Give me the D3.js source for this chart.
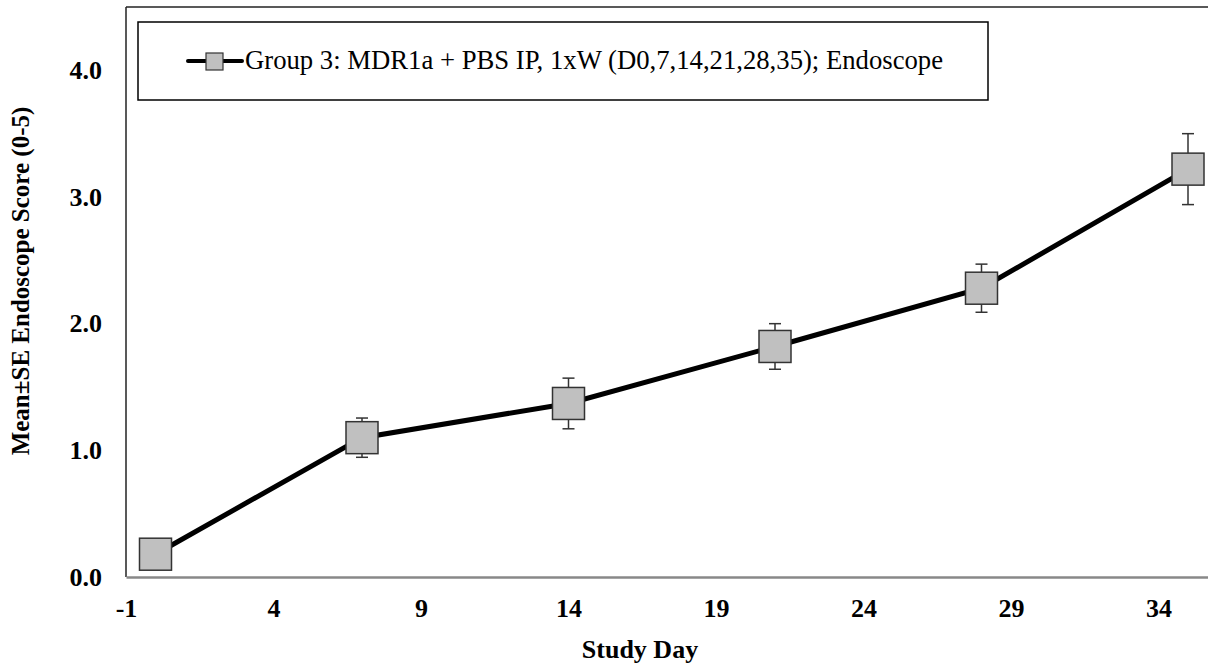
<!DOCTYPE html>
<html>
<head>
<meta charset="utf-8">
<script src="https://cdn.jsdelivr.net/npm/d3@7"></script>
<style>
  html, body { margin: 0; padding: 0; background: #fff; }
  svg { display: block; font-family: "Liberation Serif", "Times New Roman", serif; }
</style>
</head>
<body>
<svg id="chart" width="1208" height="671"></svg>
<script>
// data
const days = [0, 7, 14, 21, 28, 35];
const means = [0.18, 1.10, 1.37, 1.82, 2.28, 3.22];
const errs = [0, 0.155, 0.20, 0.18, 0.19, 0.28];
const xTicks = [-1, 4, 9, 14, 19, 24, 29, 34];
const yTicks = [0, 1, 2, 3, 4];
const seriesName = "Group 3: MDR1a + PBS IP, 1xW (D0,7,14,21,28,35); Endoscope";

const svg = d3.select("#chart");
const plotLeft = 126, plotTop = 7, plotBottom = 577;

const x = d3.scaleLinear().domain([-1, 36]).range([plotLeft, plotLeft + 37 * 29.5]);
const y = d3.scaleLinear().domain([0, 4.5]).range([plotBottom, plotTop]);

const pts = days.map((d, i) => ({ day: d, m: means[i], e: errs[i] }));

// frame: top + left in black, bottom axis grey
svg.append("line").attr("x1", plotLeft).attr("x2", 1208).attr("y1", plotTop).attr("y2", plotTop)
  .attr("stroke", "#222").attr("stroke-width", 1.5);
svg.append("line").attr("x1", plotLeft).attr("x2", plotLeft).attr("y1", plotTop).attr("y2", plotBottom)
  .attr("stroke", "#222").attr("stroke-width", 1.5);

const xAxis = d3.axisBottom(x).tickValues(xTicks).tickSize(0).tickPadding(22).tickFormat(d => String(d));
const gx = svg.append("g").attr("transform", `translate(0,${plotBottom})`).call(xAxis);
gx.select(".domain").attr("stroke", "#888").attr("stroke-width", 2.5);
gx.selectAll("text").attr("font-size", 26).attr("font-weight", "bold")
  .attr("font-family", "Liberation Serif").attr("fill", "#000");

const yAxis = d3.axisLeft(y).tickValues(yTicks).tickSize(0).tickPadding(24).tickFormat(d3.format(".1f"));
const gy = svg.append("g").attr("transform", `translate(${plotLeft},0)`).call(yAxis);
gy.select(".domain").remove();
gy.selectAll("text").attr("font-size", 26).attr("font-weight", "bold")
  .attr("font-family", "Liberation Serif").attr("fill", "#000");

// axis titles
svg.append("text").attr("x", 640).attr("y", 658).attr("text-anchor", "middle")
  .attr("font-size", 26).attr("font-weight", "bold").text("Study Day");
svg.append("text").attr("transform", "translate(29,281) rotate(-90)").attr("text-anchor", "middle")
  .attr("font-size", 25).attr("font-weight", "bold").text("Mean\u00b1SE Endoscope Score (0-5)");

// error bars
const eb = svg.append("g").attr("stroke", "#333").attr("stroke-width", 1.5);
pts.filter(p => p.e > 0).forEach(p => {
  const cx = x(p.day);
  eb.append("line").attr("x1", cx).attr("x2", cx).attr("y1", y(p.m - p.e)).attr("y2", y(p.m + p.e));
  [p.m - p.e, p.m + p.e].forEach(v => {
    eb.append("line").attr("x1", cx - 6).attr("x2", cx + 6).attr("y1", y(v)).attr("y2", y(v));
  });
});

// line
svg.append("path").datum(pts)
  .attr("d", d3.line().x(d => x(d.day)).y(d => y(d.m)))
  .attr("fill", "none").attr("stroke", "#000").attr("stroke-width", 5);

// markers
const sz = 32;
svg.selectAll("rect.mk").data(pts).enter().append("rect").attr("class", "mk")
  .attr("x", d => x(d.day) - sz / 2).attr("y", d => y(d.m) - sz / 2)
  .attr("width", sz).attr("height", sz)
  .attr("fill", "#c0c0c0").attr("stroke", "#333").attr("stroke-width", 1.5);

// legend
const lg = svg.append("g");
lg.append("rect").attr("x", 138).attr("y", 22).attr("width", 850).attr("height", 78)
  .attr("fill", "#fff").attr("stroke", "#000").attr("stroke-width", 1.5);
lg.append("line").attr("x1", 188).attr("x2", 242).attr("y1", 61).attr("y2", 61)
  .attr("stroke", "#000").attr("stroke-width", 4).attr("stroke-linecap", "round");
lg.append("rect").attr("x", 206).attr("y", 53).attr("width", 17).attr("height", 17)
  .attr("fill", "#c0c0c0").attr("stroke", "#333").attr("stroke-width", 1.2);
lg.append("text").attr("x", 245).attr("y", 69).attr("font-size", 26.7).text(seriesName);
</script>
</body>
</html>
